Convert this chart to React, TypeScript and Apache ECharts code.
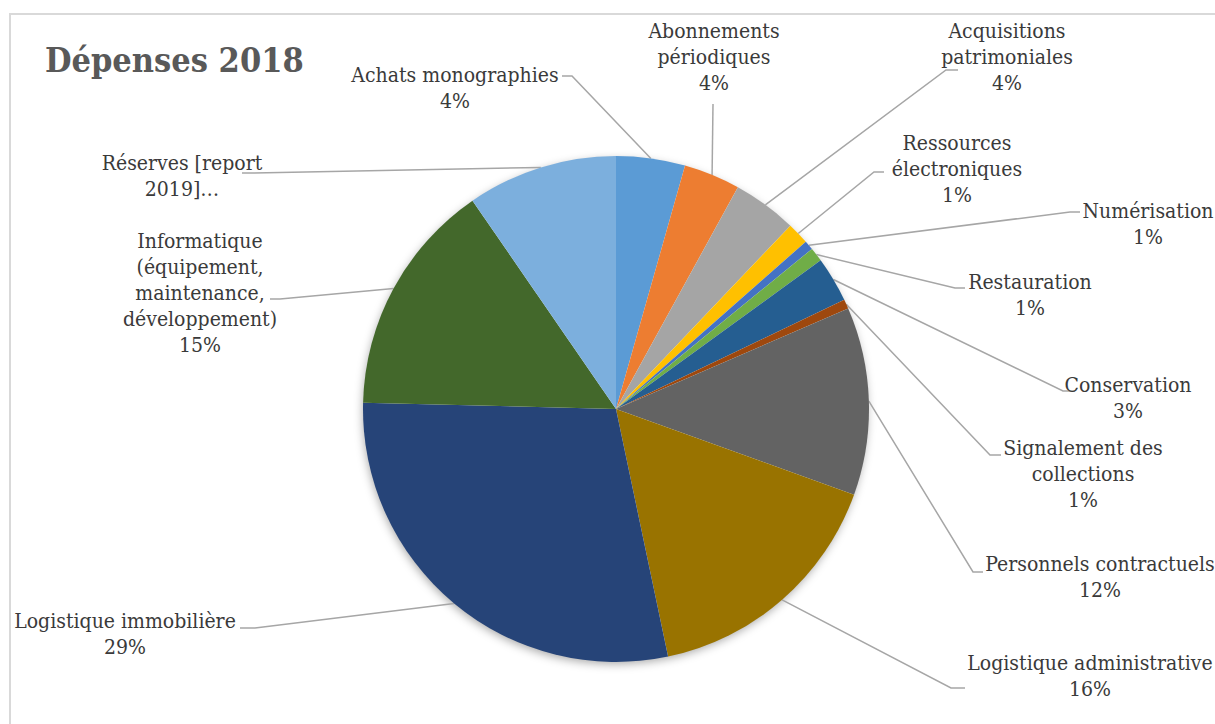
import React, { useEffect, useRef } from 'react';
import * as echarts from 'echarts';

// ---- data ----
const categories = [
  'Achats monographies',
  'Abonnements\npériodiques',
  'Acquisitions\npatrimoniales',
  'Ressources\nélectroniques',
  'Numérisation',
  'Restauration',
  'Conservation',
  'Signalement des\ncollections',
  'Personnels contractuels',
  'Logistique administrative',
  'Logistique immobilière',
  'Informatique\n(équipement,\nmaintenance,\ndéveloppement)',
  'Réserves [report\n2019]…',
];
const shares = [4.4, 3.6, 4.1, 1.4, 0.6, 0.9, 2.9, 0.6, 12.0, 16.2, 28.7, 15.0, 9.6];
const showPercent = [true, true, true, true, true, true, true, true, true, true, true, true, false];

// ---- styles / layout ----
const FONT = "'DejaVu Serif Condensed', 'DejaVu Serif', serif";
const TITLE_FONT = "'DejaVu Serif Condensed', 'DejaVu Serif', serif";
const colors = [
  '#5B9BD5', '#ED7D31', '#A5A5A5', '#FFC000', '#4472C4', '#70AD47', '#255E91',
  '#9E480E', '#636363', '#997300', '#264478', '#43682B', '#7CAFDD',
];
const CENTER = [616, 409];
const RADIUS = 253;
const labelLayoutSpec = [
  { x: 455, top: 62, elbow: [572, 76], end: [562, 76] },
  { x: 714, top: 18, elbow: [713, 104], end: [713, 104] },
  { x: 1007, top: 18, elbow: [946, 70], end: [958, 70] },
  { x: 957, top: 130, elbow: [874, 172], end: [884, 172] },
  { x: 1148, top: 198, elbow: [1070, 212], end: [1080, 212] },
  { x: 1030, top: 269, elbow: [955, 288], end: [965, 288] },
  { x: 1128, top: 372, elbow: [1063, 391], end: [1075, 391] },
  { x: 1083, top: 435, elbow: [990, 455], end: [1001, 455] },
  { x: 1100, top: 551, elbow: [973, 572], end: [983, 572] },
  { x: 1090, top: 650, elbow: [951, 688], end: [965, 688] },
  { x: 125, top: 608, elbow: [255, 628], end: [240, 628] },
  { x: 200, top: 228, elbow: [280, 299], end: [270, 299] },
  { x: 182, top: 150, elbow: [252, 173], end: [242, 173] },
];

export default function App() {
  const ref = useRef<HTMLDivElement>(null);
  useEffect(() => {
    if (!ref.current) return;
    const chart = echarts.init(ref.current, null, { renderer: 'svg' });
    const total = shares.reduce((a, b) => a + b, 0);
    const cum: number[] = [];
    let acc = 0;
    shares.forEach((v) => { cum.push(acc + v / 2); acc += v; });

    chart.setOption({
      animation: false,
      backgroundColor: '#ffffff',
      title: {
        text: 'Dépenses 2018',
        left: 40,
        top: 38,
        textStyle: {
          fontFamily: TITLE_FONT,
          fontWeight: 'bold',
          fontSize: 34,
          color: '#595959',
        },
      },
      graphic: [
        {
          type: 'rect',
          z: 0,
          shape: { x: 10, y: 14, width: 1240, height: 760 },
          style: { fill: 'none', stroke: '#D9D9D9', lineWidth: 2 },
          silent: true,
        },
        {
          type: 'circle',
          z: 0,
          shape: { cx: CENTER[0], cy: CENTER[1], r: RADIUS - 1 },
          style: {
            fill: '#ffffff',
            shadowBlur: 10,
            shadowOffsetX: -1,
            shadowOffsetY: 3,
            shadowColor: 'rgba(0,0,0,0.35)',
          },
          silent: true,
        },
      ],
      series: [
        {
          type: 'pie',
          z: 5,
          center: CENTER,
          radius: RADIUS,
          startAngle: 90,
          clockwise: true,
          avoidLabelOverlap: false,
          silent: true,
          itemStyle: { borderWidth: 0 },
          label: {
            show: true,
            position: 'outside',
            alignTo: 'none',
            fontFamily: FONT,
            fontSize: 21,
            lineHeight: 26,
            color: '#3A3A3A',
            align: 'center',
            formatter: (p: any) => {
              const i = p.dataIndex;
              const pct = Math.round((shares[i] / total) * 100) + '%';
              return showPercent[i] ? categories[i] + '\n' + pct : categories[i];
            },
          },
          labelLine: {
            show: true,
            length: 10,
            length2: 10,
            smooth: false,
            lineStyle: { color: '#A6A6A6', width: 1.5 },
          },
          labelLayout: (params: any) => {
            const i = params.dataIndex;
            const s = labelLayoutSpec[i];
            let p0 = params.labelLinePoints && params.labelLinePoints[0];
            if (!p0) {
              const a = (cum[i] / total) * Math.PI * 2;
              p0 = [CENTER[0] + RADIUS * Math.sin(a), CENTER[1] - RADIUS * Math.cos(a)];
            }
            return {
              x: s.x,
              y: s.top,
              align: 'center',
              verticalAlign: 'top',
              labelLinePoints: [p0, s.elbow, s.end],
            };
          },
          data: categories.map((c, i) => ({
            name: c,
            value: shares[i],
            itemStyle: { color: colors[i] },
          })),
        },
      ],
    });
    return () => chart.dispose();
  }, []);
  return (
    <div
      ref={ref}
      style={{ position: 'absolute', left: 0, top: 0, width: 1215, height: 724 }}
    />
  );
}
